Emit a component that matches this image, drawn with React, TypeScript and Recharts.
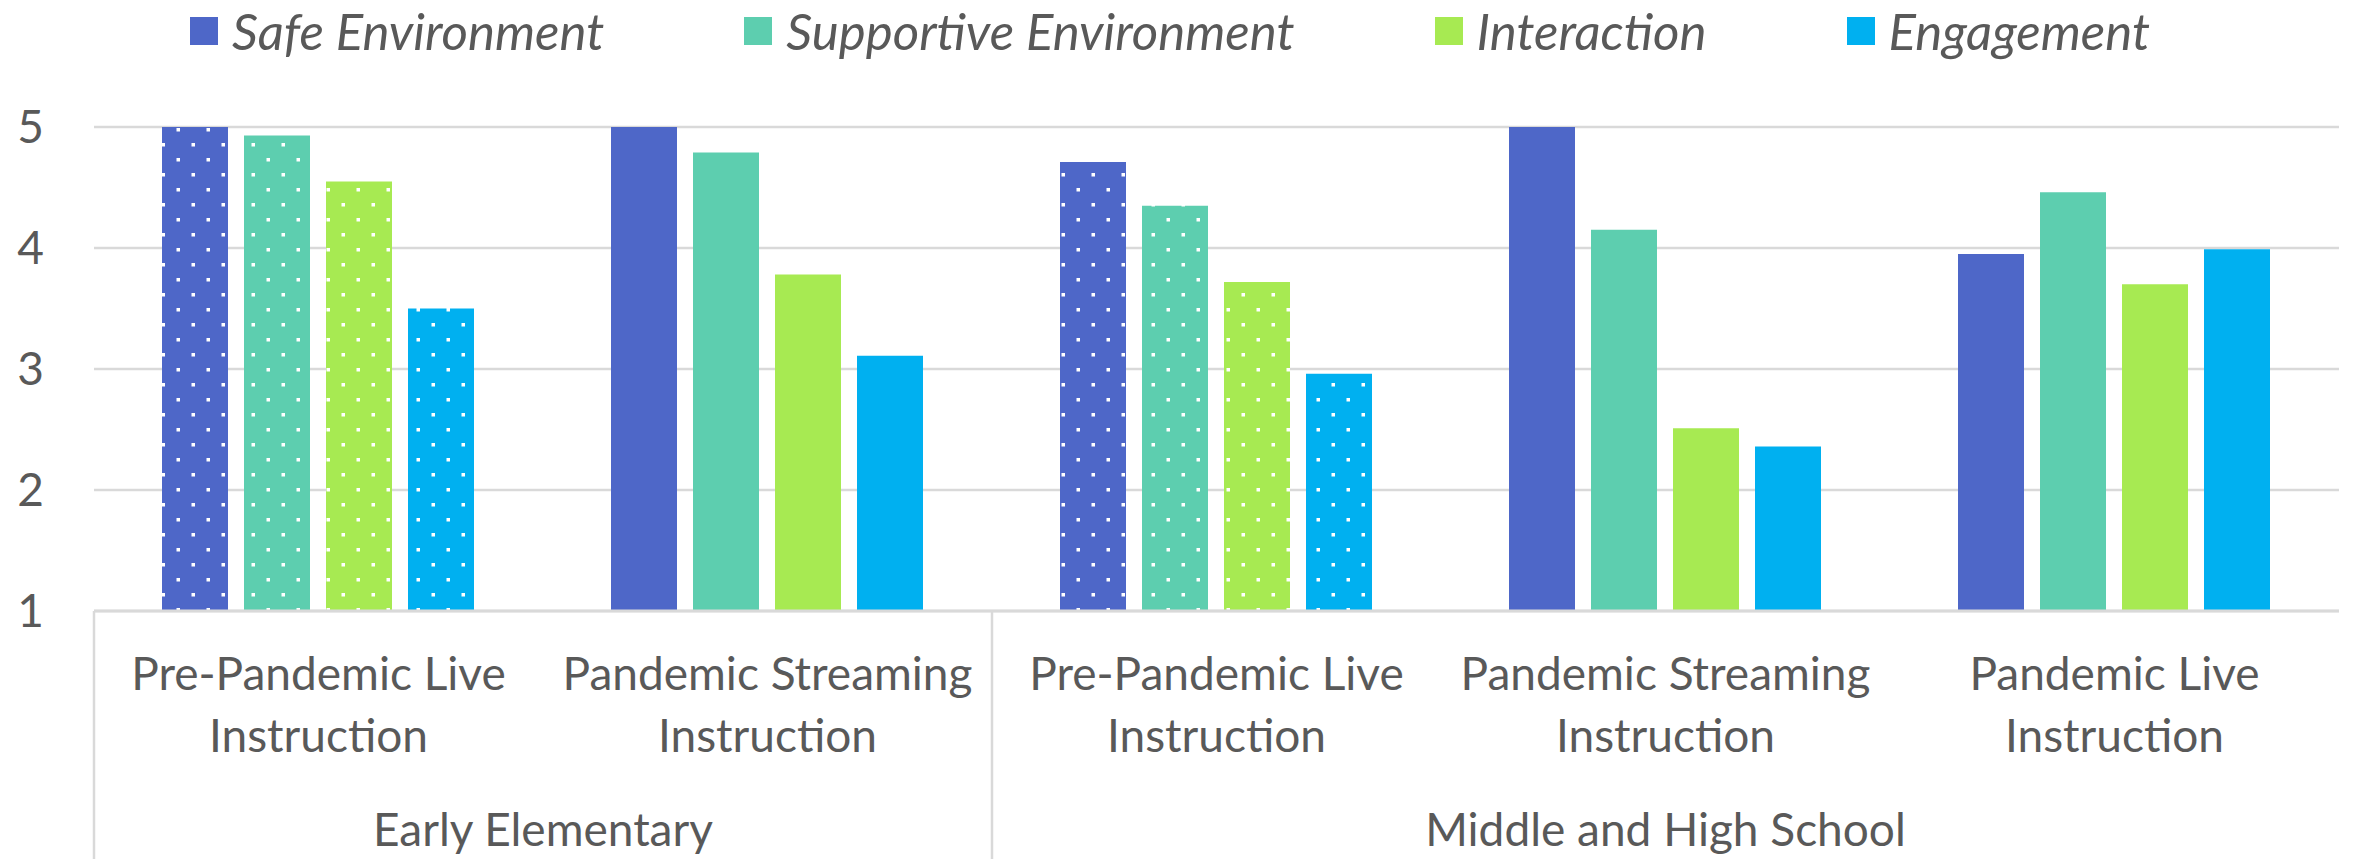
import React from "react";
import { BarChart, Bar, XAxis, YAxis, CartesianGrid, Legend, Cell } from "recharts";

// categories along the x axis (two-level: setting / school level)
const categoryLines: string[][] = [
  ["Pre-Pandemic Live", "Instruction"],
  ["Pandemic Streaming", "Instruction"],
  ["Pre-Pandemic Live", "Instruction"],
  ["Pandemic Streaming", "Instruction"],
  ["Pandemic Live", "Instruction"],
];
const groupOf = [
  "Early Elementary",
  "Early Elementary",
  "Middle and High School",
  "Middle and High School",
  "Middle and High School",
];
// pre-pandemic bars are drawn with a dotted fill
const dotted = [true, false, true, false, false];

const safeEnvironment = [5.0, 5.0, 4.71, 5.0, 3.95];
const supportiveEnvironment = [4.93, 4.79, 4.35, 4.15, 4.46];
const interaction = [4.55, 3.78, 3.72, 2.51, 3.7];
const engagement = [3.5, 3.11, 2.96, 2.36, 3.99];

const yTicks = [1, 2, 3, 4, 5];

const seriesNames = ["Safe Environment", "Supportive Environment", "Interaction", "Engagement"];
const seriesKeys = ["safe", "supportive", "interaction", "engagement"];
const colors = ["#4E67C8", "#5DCEAF", "#A7EA52", "#00B0F0"];

const data = categoryLines.map((lines, i) => ({
  key: `${groupOf[i]} | ${lines.join(" ")}`,
  safe: safeEnvironment[i],
  supportive: supportiveEnvironment[i],
  interaction: interaction[i],
  engagement: engagement[i],
}));

const FONT = "Lato, 'Open Sans', sans-serif";
const TEXT = "#595959";
const GRID = "#d9d9d9";

const CategoryTick = (props: any) => {
  const { x, y, payload } = props;
  const i: number = payload?.index ?? props.index ?? 0;
  const half: number = payload?.offset ?? 224.5;
  const lines = categoryLines[i] || [];
  const isGroupStart = i === 0 || groupOf[i] !== groupOf[i - 1];
  let groupCount = 0;
  if (isGroupStart) {
    for (let j = i; j < groupOf.length && groupOf[j] === groupOf[i]; j++) groupCount++;
  }
  const left = x - half;
  return (
    <g>
      {lines.map((ln, k) => (
        <text
          key={k}
          x={x}
          y={y + 79 + k * 62}
          textAnchor="middle"
          fill={TEXT}
          fontSize={46}
          fontFamily={FONT}
        >
          {ln}
        </text>
      ))}
      {isGroupStart && (
        <>
          <line x1={left} y1={y} x2={left} y2={y + 260} stroke={GRID} strokeWidth={2.5} />
          <text
            x={left + groupCount * half}
            y={y + 235}
            textAnchor="middle"
            fill={TEXT}
            fontSize={46}
            fontFamily={FONT}
          >
            {groupOf[i]}
          </text>
        </>
      )}
    </g>
  );
};

const ValueTick = (props: any) => {
  const { x, y, payload } = props;
  return (
    <text x={x - 50} y={y + 16} textAnchor="end" fill={TEXT} fontSize={46} fontFamily={FONT}>
      {payload.value}
    </text>
  );
};

const renderLegend = () => (
  <div
    style={{
      display: "flex",
      justifyContent: "center",
      alignItems: "center",
      gap: 140,
      height: 46,
      paddingRight: 16,
    }}
  >
    {seriesNames.map((name, i) => (
      <div key={name} style={{ display: "flex", alignItems: "center", gap: 14 }}>
        <span style={{ display: "inline-block", width: 28, height: 28, background: colors[i] }} />
        <span style={{ fontStyle: "italic", fontSize: 51, color: TEXT, fontFamily: FONT, lineHeight: "46px" }}>
          {name}
        </span>
      </div>
    ))}
  </div>
);

export default function App() {
  return (
    <BarChart
      width={2340}
      height={851}
      data={data}
      margin={{ top: 119, right: 9, left: 26, bottom: 8 }}
      barCategoryGap={68}
      barGap={16}
    >
      <defs>
        {colors.map((c, i) => (
          <pattern key={i} id={`dots-${i}`} patternUnits="userSpaceOnUse" width={30} height={30}>
            <rect width={30} height={30} fill={c} />
            <rect x={18.5} y={0} width={3.5} height={3.5} fill="#ffffff" />
            <rect x={3.5} y={15} width={3.5} height={3.5} fill="#ffffff" />
          </pattern>
        ))}
      </defs>
      <CartesianGrid vertical={false} stroke={GRID} strokeWidth={2.5} />
      <XAxis
        dataKey="key"
        height={240}
        interval={0}
        tickLine={false}
        tickSize={0}
        tickMargin={0}
        axisLine={{ stroke: GRID, strokeWidth: 3 }}
        tick={<CategoryTick />}
      />
      <YAxis
        width={60}
        domain={[1, 5]}
        ticks={yTicks}
        allowDataOverflow
        axisLine={false}
        tickLine={false}
        tickSize={0}
        tickMargin={0}
        tick={<ValueTick />}
      />
      <Legend
        layout="horizontal"
        verticalAlign="middle"
        align="center"
        content={renderLegend}
        wrapperStyle={{ top: 0, left: 0, width: 2340 }}
      />
      {seriesKeys.map((k, s) => (
        <Bar key={k} dataKey={k} name={seriesNames[s]} fill={colors[s]} isAnimationActive={false}>
          {data.map((_, i) => (
            <Cell key={i} fill={dotted[i] ? `url(#dots-${s})` : colors[s]} />
          ))}
        </Bar>
      ))}
    </BarChart>
  );
}
